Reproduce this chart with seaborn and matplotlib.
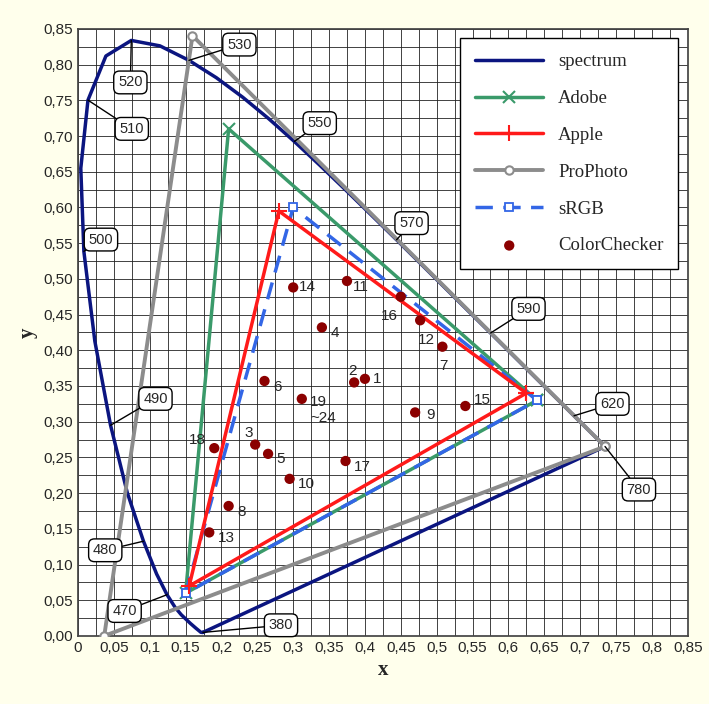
import matplotlib
matplotlib.use("Agg")
import matplotlib.pyplot as plt
import seaborn as sns
import numpy as np
import pandas as pd
from matplotlib.ticker import FuncFormatter, MultipleLocator

# Spectrum locus (CIE 1931)
spec_wl = [380,420,440,450,460,465,470,475,480,485,490,495,500,505,510,515,520,525,530,535,540,545,550,555,560,565,570,575,580,585,590,595,600,605,610,615,620,630,640,660,700,780]
spec_x = [0.1741,0.1714,0.1644,0.1566,0.1440,0.1355,0.1241,0.1096,0.0913,0.0687,0.0454,0.0235,0.0082,0.0039,0.0139,0.0389,0.0743,0.1142,0.1547,0.1929,0.2296,0.2658,0.3016,0.3373,0.3731,0.4087,0.4441,0.4788,0.5125,0.5448,0.5752,0.6029,0.6270,0.6482,0.6658,0.6801,0.6915,0.7079,0.7190,0.7300,0.7347,0.7347]
spec_y = [0.0050,0.0051,0.0109,0.0177,0.0297,0.0399,0.0578,0.0868,0.1327,0.2007,0.2950,0.4127,0.5384,0.6548,0.7502,0.8120,0.8338,0.8262,0.8059,0.7816,0.7543,0.7243,0.6923,0.6589,0.6245,0.5896,0.5547,0.5202,0.4866,0.4544,0.4242,0.3965,0.3725,0.3514,0.3340,0.3197,0.3083,0.2920,0.2809,0.2700,0.2653,0.2653]

adobe_x = [0.64, 0.21, 0.15]; adobe_y = [0.33, 0.71, 0.06]
apple_x = [0.625, 0.28, 0.155]; apple_y = [0.34, 0.595, 0.07]
pro_x = [0.7347, 0.1596, 0.0366]; pro_y = [0.2653, 0.8404, 0.0001]
srgb_x = [0.64, 0.30, 0.15]; srgb_y = [0.33, 0.60, 0.06]

cc_labels = ["1","2","3","4","5","6","7","8","9","10","11","12","13","14","15","16","17","18","19\n~24"]
cc_x = [0.400,0.385,0.247,0.340,0.265,0.260,0.508,0.210,0.470,0.295,0.375,0.477,0.183,0.300,0.540,0.450,0.373,0.190,0.312]
cc_y = [0.360,0.355,0.268,0.432,0.255,0.357,0.405,0.182,0.313,0.220,0.497,0.442,0.145,0.488,0.322,0.475,0.245,0.263,0.332]

wl_labels = [520,530,550,570,590,620,780,380,470,480,490,500,510]
wl_box_x = [0.073,0.225,0.337,0.465,0.628,0.745,0.782,0.283,0.065,0.038,0.108,0.032,0.075]
wl_box_y = [0.775,0.828,0.718,0.578,0.458,0.325,0.205,0.015,0.035,0.12,0.332,0.555,0.71]

sns.set_theme(style="white")
plt.rcParams['font.family'] = ['Liberation Sans', 'DejaVu Sans']
bg = "#FFFFEC"
fig = plt.figure(figsize=(7.09, 7.04), dpi=100, facecolor=bg)
ax = fig.add_axes([0.110, 0.0966, 0.860, 0.8624])
ax.set_facecolor("white")

closed_x = spec_x + [spec_x[0]]; closed_y = spec_y + [spec_y[0]]
ax.plot(closed_x, closed_y, color="#0B1580", lw=2.5, label="spectrum", zorder=3, solid_joinstyle="round")

def tri(xs, ys):
    return xs + [xs[0]], ys + [ys[0]]

x, y = tri(adobe_x, adobe_y)
ax.plot(x, y, color="#3A9A6A", lw=2.5, marker="x", ms=9, mew=1.5, label="Adobe", zorder=4)
x, y = tri(apple_x, apple_y)
ax.plot(x, y, color="#FF1A1A", lw=2.5, marker="+", ms=11, mew=1.5, label="Apple", zorder=6)
x, y = tri(pro_x, pro_y)
ax.plot(x, y, color="#8C8C8C", lw=2.8, marker="o", ms=6, mfc="white", mew=1.5, label="ProPhoto", zorder=3)
x, y = tri(srgb_x, srgb_y)
ax.plot(x, y, color="#3366E6", lw=2.5, ls=(0, (5, 3)), marker="s", ms=6, mfc="white", mew=1.3, label="sRGB", zorder=5)
sns.scatterplot(x=cc_x, y=cc_y, color="#8B0000", s=55, edgecolor="none", ax=ax, label="ColorChecker", zorder=7)

offs = {"2": (-4, 8), "16": (-14, -14), "12": (-2, -14), "7": (-2, -14), "18": (-18, 6), "3": (-8, 8),
        "19\n~24": (6, -8), "14": (4, 0), "11": (4, -4), "9": (8, -2), "1": (6, 0), "15": (6, 4)}
for lab, px, py in zip(cc_labels, cc_x, cc_y):
    dx, dy = offs.get(lab, (6, -4))
    ax.annotate(lab, (px, py), xytext=(dx, dy), textcoords="offset points", fontsize=11,
                ha="left", va="center", zorder=8)

for wl, bx, by in zip(wl_labels, wl_box_x, wl_box_y):
    i = spec_wl.index(wl)
    ax.annotate(str(wl), xy=(spec_x[i], spec_y[i]), xytext=(bx, by), fontsize=10.5,
                ha="center", va="center", zorder=9,
                bbox=dict(boxstyle="round,pad=0.3,rounding_size=0.4", fc="white", ec="black", lw=1),
                arrowprops=dict(arrowstyle="-", color="black", lw=1, shrinkA=0, shrinkB=0))

ax.set_xlim(0, 0.85); ax.set_ylim(0, 0.85)
ax.xaxis.set_major_locator(MultipleLocator(0.05)); ax.yaxis.set_major_locator(MultipleLocator(0.05))
ax.xaxis.set_minor_locator(MultipleLocator(0.025)); ax.yaxis.set_minor_locator(MultipleLocator(0.025))
fx = FuncFormatter(lambda v, p: "0" if abs(v) < 1e-9 else (f"{v:.2f}".rstrip("0").replace(".", ",")))
fy = FuncFormatter(lambda v, p: f"{v:.2f}".replace(".", ","))
ax.xaxis.set_major_formatter(fx); ax.yaxis.set_major_formatter(fy)
ax.grid(True, which="both", color="#222222", lw=0.6)
ax.set_axisbelow(True)
ax.tick_params(labelsize=11, length=0)
for s in ax.spines.values():
    s.set_color("#444444")
ax.set_xlabel("x", fontsize=15, fontweight="bold", family="Liberation Serif")
ax.set_ylabel("y", fontsize=15, fontweight="bold", family="Liberation Serif")

leg = ax.legend(loc="upper right", prop={"family": "Liberation Serif", "size": 13.5}, frameon=True,
                fancybox=False, edgecolor="black", handlelength=3.6, labelspacing=1.05, borderpad=0.8)
leg.get_frame().set_alpha(1)
leg.set_zorder(20)

fig.savefig("out.png", dpi=100, facecolor=bg)
